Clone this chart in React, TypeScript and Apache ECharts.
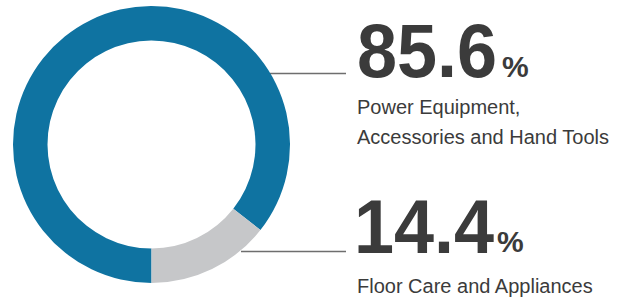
import React, { useEffect, useRef } from "react";
import * as echarts from "echarts";

const segmentNames = ["Power Equipment,\nAccessories and Hand Tools", "Floor Care and Appliances"];
const segmentValues = [85.6, 14.4];
const segmentColors = ["#0f73a1", "#c6c7c9"];

const FONT = "'Liberation Sans', Arial, sans-serif";
const TEXT_COLOR = "#3b3b3b";

export default function App() {
  const ref = useRef<HTMLDivElement>(null);

  useEffect(() => {
    if (!ref.current) return;
    const chart = echarts.init(ref.current, undefined, { renderer: "svg" });

    // annotation layout (positions only)
    const blocks = [
      { numX: 357, numY: 50.5, pctY: 66, lineY: 73.5, lineX1: 270, nameY: 107, pctX: 502 },
      { numX: 354, numY: 226.5, pctY: 241, lineY: 251.5, lineX1: 241, nameY: 286, pctX: 497 },
    ];

    const graphics: any[] = [];
    segmentValues.forEach((v, i) => {
      const b = blocks[i];
      const numText = v.toFixed(1);
      graphics.push({
        type: "text",
        x: b.numX,
        y: b.numY,
        scaleY: 1.06,
        style: {
          text: numText,
          font: `bold 72px ${FONT}`,
          fill: TEXT_COLOR,
          textAlign: "left",
          textVerticalAlign: "middle",
        },
      });
      graphics.push({
        type: "text",
        x: b.pctX,
        y: b.pctY,
        style: {
          text: "%",
          font: `bold 30px ${FONT}`,
          fill: TEXT_COLOR,
          textAlign: "left",
          textVerticalAlign: "middle",
        },
      });
      graphics.push({
        type: "line",
        shape: { x1: b.lineX1, y1: b.lineY, x2: 346, y2: b.lineY },
        style: { stroke: "#6e6e6e", lineWidth: 1.5 },
      });
      segmentNames[i].split("\n").forEach((ln, k) => {
        graphics.push({
          type: "text",
          x: 357,
          y: b.nameY + k * 30,
          style: {
            text: ln,
            font: `20px ${FONT}`,
            fill: TEXT_COLOR,
            textAlign: "left",
            textVerticalAlign: "middle",
          },
        });
      });
    });

    chart.setOption({
      animation: false,
      series: [
        {
          type: "pie",
          center: [151.5, 144.5],
          radius: [104, 138.5],
          startAngle: 270,
          clockwise: true,
          label: { show: false },
          labelLine: { show: false },
          silent: true,
          itemStyle: { borderWidth: 0 },
          data: segmentValues.map((v, i) => ({
            name: segmentNames[i],
            value: v,
            itemStyle: { color: segmentColors[i] },
          })),
        },
      ],
      graphic: graphics,
    });

    return () => chart.dispose();
  }, []);

  return (
    <div
      ref={ref}
      style={{ position: "fixed", left: 0, top: 0, width: 627, height: 301, background: "#fff" }}
    />
  );
}
